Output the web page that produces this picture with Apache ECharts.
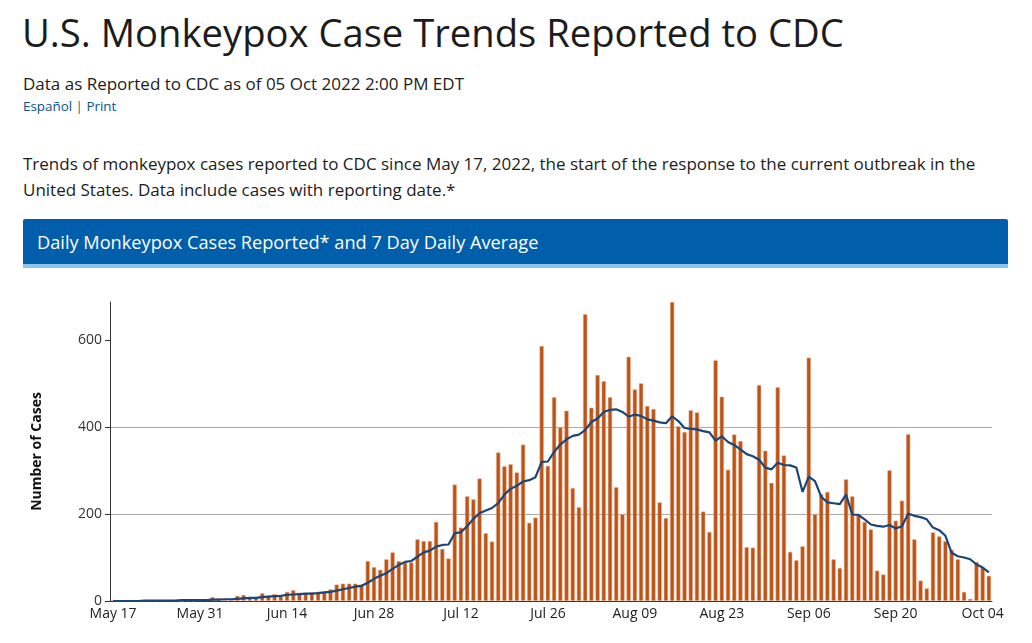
<!DOCTYPE html>
<html>
<head>
<meta charset="utf-8">
<script src="https://cdn.jsdelivr.net/npm/echarts@6/dist/echarts.min.js"></script>
<style>
  html, body { margin: 0; padding: 0; background: #fff; width: 1032px; height: 643px; overflow: hidden; font-family: "Open Sans", sans-serif; }
  .abs { position: absolute; white-space: nowrap; line-height: 1; }
  #title { left: 22px; top: 13px; font-size: 38.2px; color: #1c1c1c; }
  #sub { left: 23px; top: 75px; font-size: 17px; color: #1c1c1c; }
  #links { left: 23px; top: 100px; font-size: 13.4px; color: #075290; }
  #links .sep { color: #555; }
  #para { left: 23px; top: 151px; font-size: 17px; color: #1c1c1c; line-height: 26px; white-space: normal; width: 965px; }
  #bar { position: absolute; left: 23px; top: 219px; width: 985px; height: 45px; background: #005eaa; border-bottom: 4px solid #8cc4ea; border-radius: 2px 2px 0 0; }
  #barText { left: 14px; top: 14px; font-size: 18.2px; color: #fff; }
  #chart { position: absolute; left: 0; top: 280px; width: 1032px; height: 363px; }
</style>
</head>
<body>
<div id="title" class="abs">U.S. Monkeypox Case Trends Reported to CDC</div>
<div id="sub" class="abs">Data as Reported to CDC as of 05 Oct 2022 2:00 PM EDT</div>
<div id="links" class="abs">Español <span class="sep">|</span> Print</div>
<div id="para" class="abs">Trends of monkeypox cases reported to CDC since May 17, 2022, the start of the response to the current outbreak in the United States. Data include cases with reporting date.*</div>
<div id="bar"><div id="barText" class="abs">Daily Monkeypox Cases Reported* and 7 Day Daily Average</div></div>
<div id="chart"></div>
<script>
// Daily cases, May 17 .. Oct 05 2022
const casesMay = [2,0,0,1,0,0,1,1,2,3,1,0,1,1,2];
const casesJun = [2,9,6,2,2,12,14,8,8,18,12,16,13,21,25,19,19,20,21,21,27,38,40,40,40,38,92,78,72,96];
const casesJul = [112,92,89,89,142,138,138,182,120,98,268,169,241,234,282,156,137,342,310,315,296,360,180,192,587,311,469,400,438,260,216];
const casesAug = [660,445,520,506,469,262,200,562,487,501,449,442,227,191,688,402,389,439,434,206,159,554,470,302,383,368,124,123,497,346,272];
const casesSep = [492,335,113,94,126,560,200,246,251,96,76,280,241,198,182,165,70,61,301,185,231,384,142,47,29,158,149,138,118,96];
const casesOct = [21,5,90,77,58];

// 7 day daily average
const avgMay = [0,0,0,0,0,1,1,1,1,1,1,2,2,2,2];
const avgJun = [2,3,3,4,4,5,6,7,7,9,10,11,12,14,15,16,17,17,18,20,21,24,27,30,33,35,42,51,58,64];
const avgJul = [74,83,90,92,102,112,116,125,129,130,156,158,172,189,202,208,214,225,245,258,265,275,278,285,320,321,343,360,372,380,383];
const avgAug = [393,412,420,435,440,441,435,424,429,426,418,415,411,409,425,414,398,396,395,391,388,369,379,366,359,349,338,333,325,307,303];
const avgSep = [318,313,312,307,251,286,276,240,227,225,223,245,199,198,188,176,173,171,175,167,172,201,196,193,188,169,163,150,111,103];
const avgOct = [100,96,84,77,66];

const monthNames = ['May','Jun','Jul','Aug','Sep','Oct'];
const monthLengths = [casesMay.length, casesJun.length, casesJul.length, casesAug.length, casesSep.length, casesOct.length];
const monthStart = [17,1,1,1,1,1];
const yTicks = [0,200,400,600];

const categories = [];
monthNames.forEach((m, mi) => {
  for (let d = 0; d < monthLengths[mi]; d++) {
    const day = monthStart[mi] + d;
    categories.push(m + ' ' + String(day).padStart(2, '0'));
  }
});
const cases = [].concat(casesMay, casesJun, casesJul, casesAug, casesSep, casesOct);
const avg = [].concat(avgMay, avgJun, avgJul, avgAug, avgSep, avgOct);

const chart = echarts.init(document.getElementById('chart'), null, {renderer: 'canvas'});
chart.setOption({
  animation: false,
  grid: { left: 110, right: 40, top: 22, bottom: 42, containLabel: false },
  xAxis: {
    type: 'category',
    data: categories,
    boundaryGap: true,
    axisLine: { lineStyle: { color: '#333', width: 1 } },
    axisTick: { alignWithLabel: true, interval: 13, length: 5, lineStyle: { color: '#333' } },
    axisLabel: { interval: 13, fontSize: 14, color: '#222', margin: 6, fontFamily: 'Open Sans' },
    splitLine: { show: false }
  },
  yAxis: {
    type: 'value',
    min: 0,
    max: 688,
    interval: 200,
    name: 'Number of Cases',
    nameLocation: 'middle',
    nameGap: 66,
    nameTextStyle: { fontSize: 14, fontWeight: 'bold', color: '#111', fontFamily: 'Open Sans' },
    axisLine: { show: true, lineStyle: { color: '#333', width: 1 } },
    axisTick: { show: true, length: 5, lineStyle: { color: '#333' }, customValues: yTicks },
    axisLabel: { fontSize: 14, color: '#333', margin: 8, fontFamily: 'Open Sans', customValues: yTicks },
    splitLine: { show: true, showMaxLine: false, lineStyle: { color: '#aaa', width: 1 } }
  },
  series: [
    {
      type: 'bar',
      data: cases,
      barCategoryGap: '30%',
      itemStyle: { color: '#bc5419', borderColor: 'rgba(238,180,145,0.9)', borderWidth: 0.6 }
    },
    {
      type: 'line',
      data: avg,
      symbol: 'none',
      smooth: false,
      lineStyle: { color: '#1a4677', width: 2.2 },
      z: 5
    }
  ]
});
</script>
</body>
</html>
